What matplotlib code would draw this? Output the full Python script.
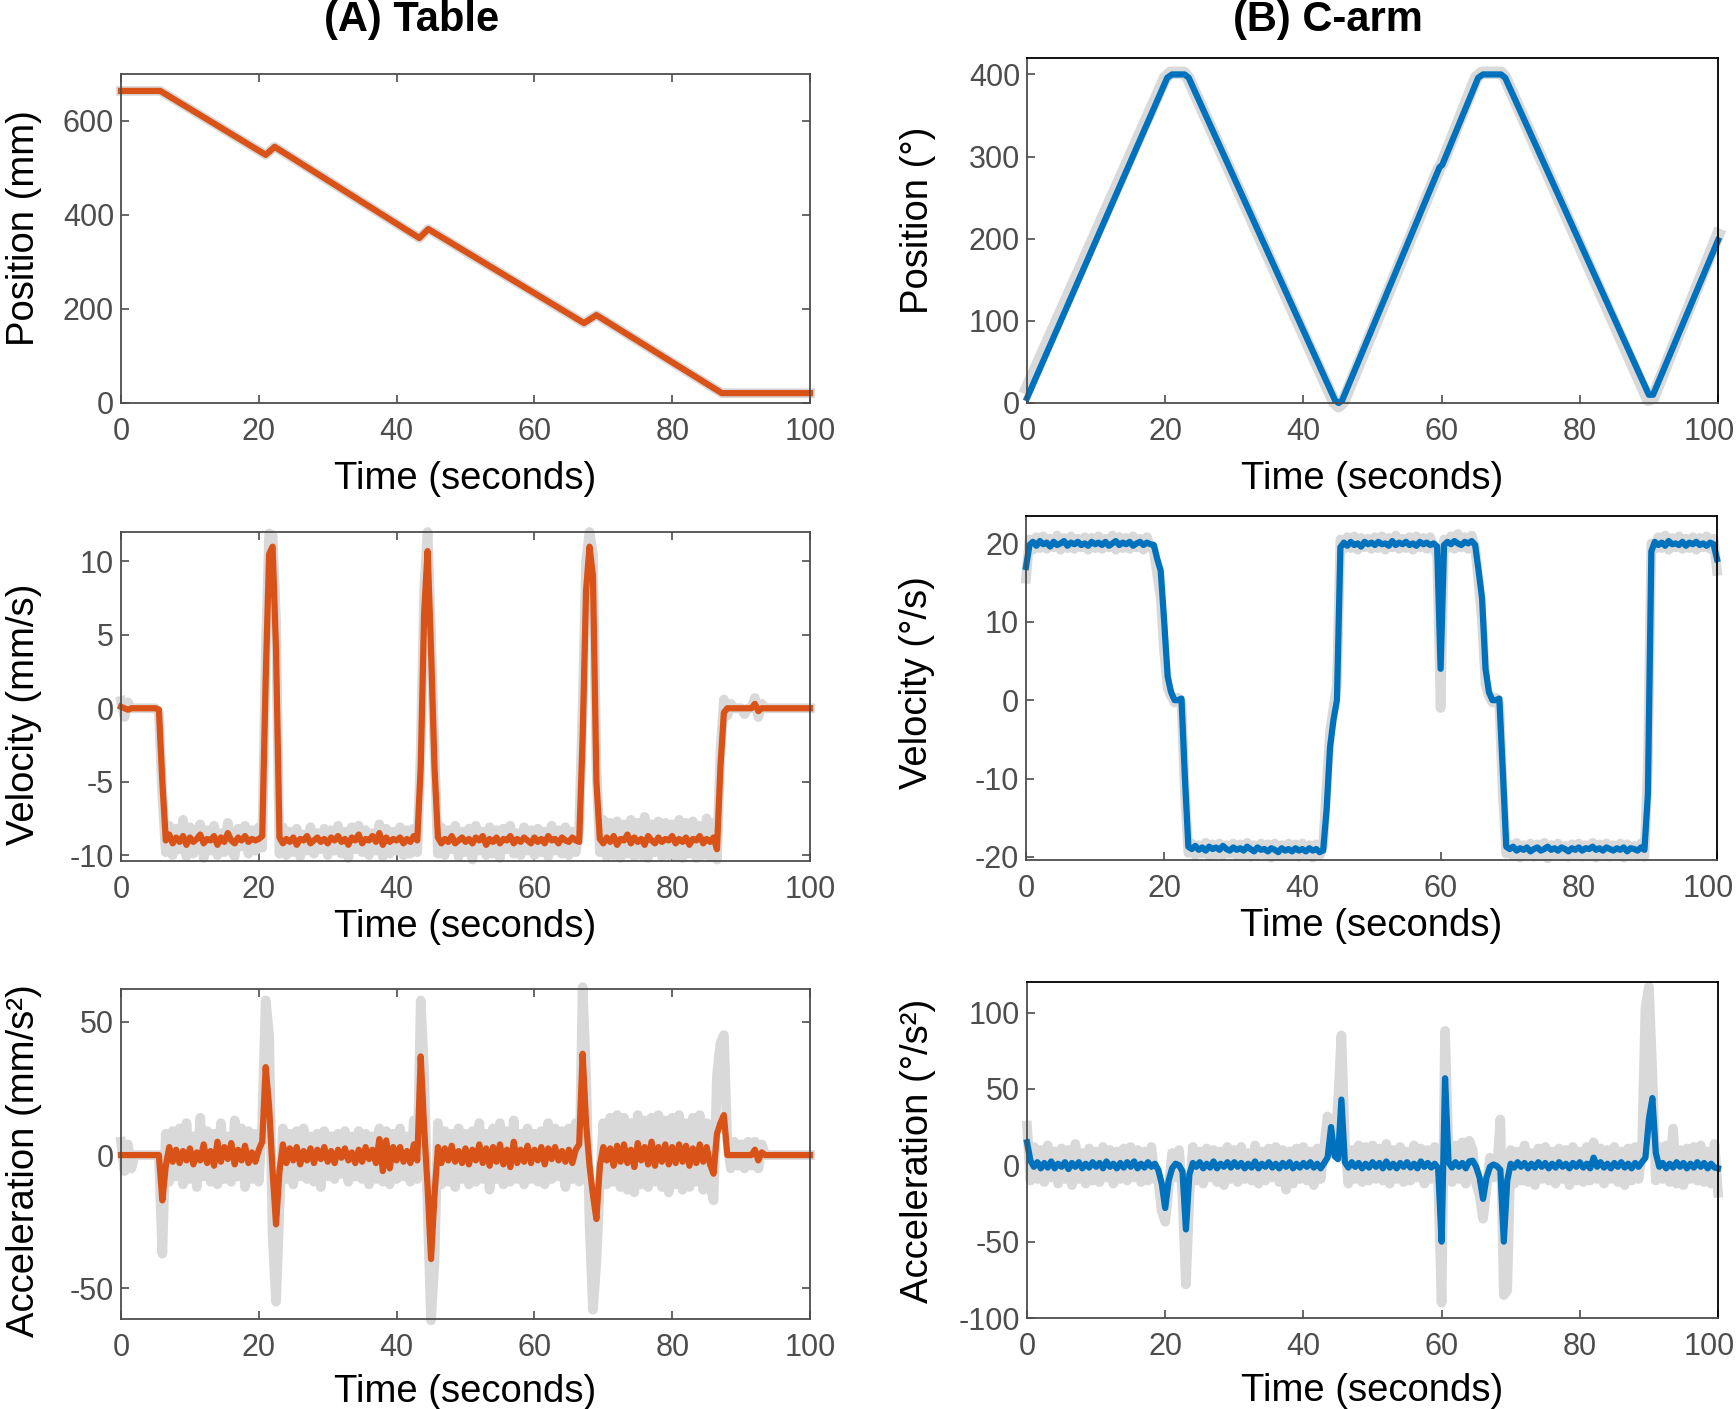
import numpy as np
import matplotlib
matplotlib.use("Agg")
import matplotlib.pyplot as plt
import matplotlib.transforms as mtransforms

plt.rcParams["font.family"] = ["Liberation Sans", "DejaVu Sans"]
plt.rcParams["axes.unicode_minus"] = False

ORANGE = "#D95319"
BLUE = "#0072BD"
GRAY = "#D9D9D9"
TICK = "#4D4D4D"

# ---- position (keypoints) ----
table_pos_t = [0, 5.7, 21.0, 22.3, 43.3, 44.6, 67.2, 69.0, 87.2, 100]
table_pos = [664, 664, 528, 545, 351, 370, 170, 187, 21, 21]

carm_pos_t = [0, 20.3, 21.0, 22.8, 23.4, 44.6, 45.1, 45.6, 59.7, 60.1, 65.3, 66.0, 68.6, 69.2, 90.0, 90.6, 100]
carm_pos = [6, 396, 400, 400, 396, 3, 0, 3, 287, 290, 396, 400, 400, 396, 10, 10, 198]
carm_pos_raw_t = [0, 20.0, 20.8, 22.7, 23.3, 44.4, 45.1, 45.8, 59.6, 60.1, 65.0, 65.8, 68.6, 69.2, 89.9, 90.6, 100]
carm_pos_raw = [18, 396, 402, 402, 396, 2, -4, 2, 285, 292, 396, 402, 402, 396, 4, 6, 205]

# ---- velocity / acceleration, one value every 0.5 s ----
table_vel = [
    0.1, 0.0, -0.1, 0.0, 0.0, 0.0, 0.0, 0.0, 0.0, 0.0, 0.0, -0.1, -5.0, -9.0, -8.6, -9.2, -8.8, -9.1, -8.7, -9.3,
    -8.8, -9.1, -8.9, -8.6, -9.2, -8.9, -9.0, -8.7, -9.3, -8.8, -9.1, -8.5, -9.0, -9.2, -8.8, -9.0, -8.7, -9.1, -8.9, -9.0,
    -8.9, -8.7, 2.0, 10.5, 11.0, 4.0, -8.8, -9.2, -8.9, -9.1, -8.8, -9.3, -8.9, -9.0, -8.7, -9.2, -9.0, -8.8, -9.1, -8.9,
    -9.2, -8.8, -9.0, -8.7, -9.1, -8.9, -9.3, -8.8, -9.0, -8.6, -9.2, -8.9, -9.0, -8.7, -9.1, -8.5, -9.3, -8.8, -9.1, -8.9,
    -9.0, -8.8, -9.2, -8.9, -9.1, -8.7, -9.0, -4.0, 6.5, 10.7, 4.0, -4.0, -8.8, -9.2, -8.9, -9.1, -8.7, -9.2, -9.0, -8.8,
    -9.1, -8.9, -9.2, -8.8, -9.0, -8.7, -9.3, -8.9, -9.1, -8.8, -9.2, -8.9, -9.0, -8.7, -9.2, -8.9, -9.1, -8.8, -9.0, -9.2,
    -8.8, -9.1, -8.9, -9.2, -8.7, -9.0, -8.9, -9.2, -8.8, -9.0, -9.1, -8.8, -9.0, -9.1, -2.0, 8.0, 11.0, 9.0, -5.0, -8.9,
    -9.2, -8.8, -9.1, -8.7, -9.3, -8.9, -9.0, -8.6, -9.2, -8.8, -9.1, -8.9, -9.3, -8.7, -9.0, -9.2, -8.8, -9.1, -8.9, -9.0,
    -8.7, -9.2, -8.9, -9.1, -8.8, -9.3, -8.9, -9.0, -8.7, -9.2, -8.9, -9.1, -8.8, -9.6, -4.0, -0.3, 0.0, 0.0, 0.0, 0.0,
    0.0, 0.0, 0.0, 0.0, 0.3, -0.2, 0.0, 0.0, 0.0, 0.0, 0.0, 0.0, 0.0, 0.0, 0.0, 0.0, 0.0, 0.0, 0.0, 0.0,
    0.0]
table_vel_raw = [
    0.5, -0.6, 0.4, 0.0, 0.0, 0.0, 0.0, 0.0, 0.0, 0.0, 0.0, -0.3, -6.0, -9.8, -8.0, -10.0, -8.2, -9.6, -7.6, -10.1,
    -8.1, -9.9, -8.4, -7.9, -10.2, -8.3, -9.7, -8.0, -10.0, -8.5, -9.8, -7.8, -9.6, -10.1, -8.2, -9.4, -8.0, -9.9, -8.3, -9.7,
    -8.1, -9.5, 3.5, 11.9, 11.8, 6.0, -9.9, -8.1, -10.0, -8.4, -9.8, -8.2, -10.1, -8.6, -9.7, -8.1, -9.9, -8.5, -9.6, -8.2,
    -10.0, -8.3, -9.7, -8.0, -9.9, -8.4, -10.2, -8.1, -9.6, -8.0, -9.8, -8.3, -10.0, -8.5, -9.7, -7.9, -10.1, -8.2, -9.9, -8.4,
    -9.7, -8.1, -10.0, -8.3, -9.9, -8.2, -9.8, -3.0, 8.0, 12.0, 5.0, -3.0, -9.9, -8.1, -10.0, -8.3, -9.6, -8.0, -10.1, -8.4,
    -9.8, -8.2, -10.3, -8.0, -9.7, -8.4, -10.0, -8.1, -9.9, -8.3, -10.2, -8.2, -9.6, -8.0, -9.9, -8.5, -10.0, -8.1, -9.7, -8.3,
    -10.0, -8.2, -9.8, -8.4, -10.1, -8.0, -9.7, -8.3, -9.9, -8.1, -10.0, -8.4, -9.8, -8.2, 0.0, 10.0, 12.0, 10.5, -4.0, -9.8,
    -7.6, -10.1, -7.8, -10.0, -7.7, -10.2, -7.9, -9.9, -7.6, -10.1, -7.8, -10.0, -7.4, -10.2, -7.9, -9.8, -7.7, -10.1, -7.8, -10.0,
    -7.9, -10.1, -7.6, -10.2, -7.8, -9.9, -7.7, -10.2, -8.0, -10.0, -7.5, -10.1, -7.8, -10.3, -3.0, 0.6, -0.5, 0.3, 0.0, 0.0,
    0.0, -0.4, 0.0, 0.0, 0.7, -0.6, 0.3, 0.0, 0.0, 0.0, 0.0, 0.0, 0.0, 0.0, 0.0, 0.0, 0.0, 0.0, 0.0, 0.0,
    0.0]

carm_vel = [
    17.0, 19.8, 20.2, 19.7, 20.3, 19.9, 20.1, 19.6, 20.2, 19.8, 20.0, 20.3, 19.7, 20.1, 19.9, 20.2, 19.8, 20.0, 19.7, 20.2,
    19.9, 20.1, 19.8, 20.2, 19.7, 20.0, 20.3, 19.8, 20.1, 19.9, 20.2, 19.7, 20.0, 20.2, 19.8, 20.1, 19.9, 19.8, 18.0, 16.5,
    10.0, 3.0, 1.0, 0.0, 0.0, 0.2, -10.0, -18.7, -19.0, -18.6, -19.1, -18.8, -19.2, -18.7, -19.0, -18.8, -19.1, -18.6, -19.0, -19.2,
    -18.8, -19.1, -18.9, -19.2, -18.7, -19.0, -19.3, -18.8, -19.1, -19.0, -19.3, -18.9, -19.1, -19.4, -18.9, -19.2, -19.0, -19.3, -18.9, -19.2,
    -19.0, -19.3, -18.9, -19.2, -19.0, -19.4, -19.2, -14.0, -6.0, -2.5, 0.0, 19.5, 20.1, 19.7, 20.2, 19.8, 20.0, 19.6, 20.2, 19.9,
    20.1, 19.8, 20.2, 19.9, 20.0, 19.7, 20.3, 19.8, 20.1, 19.9, 20.2, 19.8, 20.0, 19.7, 20.2, 19.9, 20.1, 19.8, 20.0, 19.6,
    4.0, 19.8, 20.2, 19.9, 20.3, 20.0, 19.8, 20.2, 20.0, 20.3, 19.8, 16.5, 13.0, 4.0, 1.0, 0.0, 0.0, 0.2, -9.0, -18.7,
    -19.0, -18.7, -19.2, -18.9, -19.1, -18.8, -19.3, -19.0, -18.8, -19.2, -19.0, -18.7, -19.1, -18.9, -19.2, -18.8, -19.0, -19.3, -18.9, -19.1,
    -18.8, -19.2, -18.9, -19.0, -18.7, -19.1, -18.9, -19.2, -18.8, -19.0, -19.2, -18.9, -19.1, -18.8, -19.3, -18.9, -19.0, -19.2, -18.8, -19.1,
    -12.0, 19.0, 20.2, 19.8, 20.1, 19.7, 20.3, 19.9, 20.0, 19.8, 20.2, 19.7, 20.1, 19.9, 20.2, 19.8, 20.0, 19.7, 20.1, 19.9,
    18.0]
carm_vel_raw = [
    15.5, 20.5, 19.2, 20.8, 19.4, 20.9, 19.3, 20.6, 19.5, 21.0, 19.2, 20.7, 19.4, 20.9, 19.3, 20.6, 19.5, 20.8, 19.2, 20.7,
    19.4, 20.9, 19.3, 20.6, 19.5, 21.0, 19.2, 20.8, 19.4, 20.7, 19.3, 20.9, 19.5, 20.6, 19.2, 20.8, 19.6, 19.0, 16.0, 13.0,
    6.0, 1.5, 0.5, -0.3, 0.3, -0.5, -12.0, -19.5, -18.3, -19.8, -18.5, -19.6, -18.2, -19.9, -18.4, -19.7, -18.3, -19.8, -18.5, -19.6,
    -18.3, -19.9, -18.4, -19.7, -18.2, -20.0, -18.5, -19.8, -18.3, -19.7, -18.4, -20.1, -18.3, -19.8, -18.5, -19.9, -18.3, -19.7, -18.4, -20.0,
    -18.3, -19.8, -18.5, -20.1, -18.4, -19.8, -18.6, -11.0, -4.0, -1.0, 2.0, 20.5, 19.3, 20.8, 19.4, 20.9, 19.2, 20.7, 19.5, 20.6,
    19.3, 20.8, 19.4, 20.9, 19.2, 20.7, 19.5, 21.0, 19.3, 20.6, 19.4, 20.8, 19.2, 20.9, 19.5, 20.7, 19.3, 20.8, 19.4, 18.5,
    -1.0, 20.5, 19.4, 20.9, 19.3, 21.2, 19.5, 20.8, 19.3, 21.0, 19.4, 15.0, 10.0, 2.0, 0.5, -0.3, 0.3, -0.5, -12.0, -19.6,
    -18.4, -19.9, -18.2, -20.1, -18.5, -19.7, -18.3, -20.0, -18.4, -19.8, -18.2, -20.2, -18.5, -19.7, -18.3, -19.9, -18.6, -20.0, -18.4, -19.8,
    -18.3, -20.0, -18.5, -19.8, -18.2, -20.1, -18.4, -19.7, -18.3, -20.0, -18.5, -19.8, -18.3, -20.1, -18.4, -19.7, -18.6, -19.9, -18.3, -20.0,
    -8.0, 20.0, 19.3, 20.8, 19.4, 21.0, 19.2, 20.7, 19.5, 20.9, 19.3, 20.6, 19.4, 20.8, 19.2, 20.7, 19.5, 20.9, 19.3, 20.6,
    16.5]

table_acc = [
    0.0, 0.0, 0.0, 0.0, 0.0, 0.0, 0.0, 0.0, 0.0, 0.0, 0.0, 0.0, -17.0, -4.0, 3.0, -2.5, 2.0, -3.0, 1.5, -2.0,
    2.5, -3.5, 1.0, -2.0, 4.0, -3.0, 1.5, -4.0, 5.0, -2.5, 3.0, -1.5, 4.5, -3.5, 2.0, -2.0, 3.5, -3.0, 1.0, -2.5,
    2.0, 5.0, 33.0, 18.0, -6.0, -26.0, -6.0, 4.0, -3.0, 2.5, -2.0, 3.0, -3.5, 1.5, -2.0, 2.5, -3.0, 2.0, -1.5, 3.0,
    -2.5, 1.5, -3.0, 2.0, -1.0, 2.5, -2.0, 1.0, -3.0, 2.0, -2.5, 3.0, -1.5, 2.0, -3.0, 6.0, -6.0, 5.5, -5.0, 3.0,
    -2.0, 3.0, -2.5, 1.5, -3.0, 4.0, -2.0, 37.0, 10.0, -12.0, -39.0, -15.0, 3.0, -3.0, 2.5, -2.0, 3.5, -2.5, 1.5, -3.0,
    2.5, -3.5, 2.0, -2.0, 4.0, -3.0, 2.5, -4.0, 3.0, -2.5, 4.0, -3.5, 2.0, -4.5, 5.0, -3.0, 2.0, -2.5, 3.5, -3.0,
    2.0, -2.0, 3.0, -3.5, 2.5, -1.5, 3.0, -2.0, 1.5, -2.5, 2.0, -3.0, 2.0, 4.0, 38.0, 12.0, -4.0, -15.0, -24.0, -4.0,
    3.0, -2.0, 2.5, -4.0, 3.5, -2.5, 4.0, -3.0, 2.0, -4.5, 4.5, -2.0, 3.0, -3.5, 5.0, -4.0, 3.0, -2.5, 4.0, -3.5,
    3.0, -3.0, 4.0, -2.5, 3.5, -4.0, 2.5, -3.0, 4.0, -2.5, 3.0, -3.5, -7.0, 8.0, 12.0, 15.0, 0.0, 0.0, 0.0, 0.0,
    0.0, 0.0, 0.0, 0.0, 2.0, -2.0, 1.0, 0.0, 0.0, 0.0, 0.0, 0.0, 0.0, 0.0, 0.0, 0.0, 0.0, 0.0, 0.0, 0.0,
    0.0]
table_acc_raw = [
    5.0, -6.0, 4.0, -5.0, 0.0, 0.0, 0.0, 0.0, 0.0, 0.0, 0.0, 0.0, -37.0, 8.0, -10.0, 9.0, -8.0, 10.0, -11.0, 12.0,
    -9.0, 7.0, -12.0, 14.0, -8.0, 9.0, -10.0, 8.0, -11.0, 12.0, -9.0, 7.0, -10.0, 13.0, -8.0, 10.0, -12.0, 9.0, -9.0, 8.0,
    -10.0, 12.0, 58.0, 45.0, -30.0, -55.0, -20.0, 10.0, -9.0, 8.0, -11.0, 9.0, -8.0, 10.0, -9.0, 7.0, -10.0, 8.0, -12.0, 9.0,
    -8.0, 7.0, -9.0, 8.0, -7.0, 9.0, -10.0, 7.0, -8.0, 9.0, -9.0, 8.0, -11.0, 7.0, -9.0, 10.0, -10.0, 9.0, -11.0, 8.0,
    -9.0, 10.0, -8.0, 7.0, -10.0, 13.0, -9.0, 58.0, 30.0, -20.0, -62.0, -40.0, 12.0, -11.0, 9.0, -10.0, 8.0, -12.0, 10.0, -9.0,
    8.0, -11.0, 9.0, -10.0, 12.0, -9.0, 8.0, -13.0, 10.0, -9.0, 12.0, -11.0, 9.0, -10.0, 13.0, -9.0, 8.0, -11.0, 10.0, -9.0,
    8.0, -10.0, 9.0, -11.0, 12.0, -9.0, 10.0, -8.0, 9.0, -12.0, 10.0, -9.0, 12.0, -10.0, 63.0, 30.0, -25.0, -58.0, -40.0, -10.0,
    12.0, -11.0, 14.0, -10.0, 15.0, -12.0, 14.0, -13.0, 12.0, -14.0, 15.0, -11.0, 13.0, -12.0, 14.0, -10.0, 15.0, -12.0, 13.0, -14.0,
    14.0, -11.0, 15.0, -13.0, 12.0, -12.0, 14.0, -10.0, 15.0, -13.0, 12.0, -11.0, -17.0, 30.0, 42.0, 45.0, 5.0, -5.0, 5.0, -4.0,
    4.0, -5.0, 5.0, -4.0, 5.0, -5.0, 4.0, 0.0, 0.0, 0.0, 0.0, 0.0, 0.0, 0.0, 0.0, 0.0, 0.0, 0.0, 0.0, 0.0,
    0.0]

carm_acc = [
    15.0, 3.0, -1.0, 2.0, -2.0, 1.5, -1.5, 2.5, -2.0, 1.0, -1.0, 2.0, -2.5, 1.5, -1.0, 2.0, -2.0, 1.0, -1.5, 2.0,
    -1.0, 1.5, -2.0, 2.5, -1.0, 1.0, -2.0, 1.5, -1.5, 2.0, -1.0, 2.5, -2.0, 1.0, -1.5, 2.0, -1.0, 1.0, -3.0, -12.0,
    -28.0, -10.0, -2.0, 1.0, 0.0, -4.0, -42.0, -6.0, 1.5, -1.0, 2.0, -2.0, 1.0, -1.5, 2.5, -2.0, 1.0, -1.0, 2.0, -1.5,
    2.0, -1.0, 1.5, -2.0, 1.0, -1.5, 2.5, -2.0, 1.0, -1.0, 2.0, -1.5, 1.0, -2.0, 1.5, -1.0, 2.0, -2.0, 1.0, -1.5,
    1.5, -1.0, 2.0, -1.5, 1.0, -2.0, 1.5, 5.0, 25.0, 6.0, 4.0, 43.0, 2.0, -1.5, 2.0, -1.0, 1.5, -2.0, 1.0, -1.5,
    2.0, -1.0, 1.5, -2.0, 2.5, -1.5, 1.0, -2.0, 1.5, -1.0, 2.0, -1.5, 1.0, -2.0, 2.5, -1.0, 1.5, -1.5, 1.0, -2.0,
    -50.0, 57.0, 2.0, -1.5, 2.0, -1.0, 1.5, -2.0, 2.5, 3.0, -1.0, -8.0, -22.0, -8.0, -1.0, 0.5, -0.5, -3.0, -50.0, -10.0,
    1.0, -1.5, 2.0, -1.0, 1.5, -2.0, 1.0, -1.5, 2.0, -1.0, 1.5, -2.0, 1.0, -1.5, 2.0, -1.0, 1.0, -2.0, 1.5, -1.0,
    2.0, -1.5, 1.0, -2.0, 5.0, -1.0, 2.0, -1.5, 1.0, -2.0, 1.5, -1.0, 2.0, -1.5, 1.0, -2.0, 1.5, -1.0, 2.0, 5.0,
    30.0, 44.0, 8.0, -1.0, 1.5, -2.0, 1.0, -1.5, 2.0, -1.0, 1.5, -2.0, 1.0, -1.5, 2.0, -1.0, 1.5, -2.0, 1.0, -1.5,
    -2.0]
carm_acc_raw = [
    26.0, -10.0, 12.0, -9.0, 10.0, -11.0, 13.0, -8.0, 9.0, -12.0, 11.0, -9.0, 10.0, -13.0, 14.0, -9.0, 8.0, -12.0, 11.0, -10.0,
    9.0, -11.0, 12.0, -8.0, 10.0, -12.0, 9.0, -9.0, 11.0, -10.0, 12.0, -8.0, 10.0, -11.0, 9.0, -10.0, 12.0, -9.0, -10.0, -30.0,
    -37.0, -15.0, 8.0, -8.0, 10.0, -20.0, -78.0, -20.0, 12.0, -10.0, 9.0, -12.0, 11.0, -8.0, 10.0, -11.0, 9.0, -13.0, 12.0, -9.0,
    10.0, -11.0, 12.0, -9.0, 8.0, -10.0, 13.0, -12.0, 9.0, -10.0, 11.0, -8.0, 12.0, -11.0, 10.0, -16.0, 9.0, -12.0, 11.0, -9.0,
    12.0, -10.0, 9.0, -13.0, 11.0, -9.0, 12.0, 32.0, 28.0, 10.0, 40.0, 85.0, 15.0, -12.0, 10.0, -9.0, 13.0, -11.0, 12.0, -10.0,
    13.0, -9.0, 11.0, -10.0, 14.0, -12.0, 10.0, -9.0, 12.0, -11.0, 9.0, -10.0, 13.0, -8.0, 11.0, -12.0, 10.0, -9.0, 12.0, -10.0,
    -90.0, 88.0, 10.0, -11.0, 13.0, -9.0, 15.0, -12.0, 16.0, 10.0, -12.0, -20.0, -35.0, -15.0, 5.0, -8.0, -5.0, 30.0, -85.0, -82.0,
    10.0, -12.0, 9.0, -10.0, 13.0, -11.0, 8.0, -13.0, 11.0, -9.0, 12.0, -10.0, 9.0, -12.0, 11.0, -9.0, 10.0, -13.0, 12.0, -10.0,
    9.0, -11.0, 12.0, -10.0, 15.0, -9.0, 11.0, -12.0, 10.0, -9.0, 12.0, -11.0, 9.0, -13.0, 11.0, -10.0, 12.0, -9.0, 10.0, 103.0,
    117.0, 60.0, -10.0, 12.0, -9.0, 13.0, -11.0, 24.0, -12.0, 10.0, -13.0, 11.0, -9.0, 12.0, -10.0, 13.0, -11.0, 9.0, -12.0, 14.0,
    -18.0]


def sample_times(values):
    return np.arange(len(values)) * 0.5


def px_rect(left, right, top, bottom):
    W, H = 1736, 1409
    return [left / W, 1 - bottom / H, (right - left) / W, (bottom - top) / H]


def style(ax, ylim, yticks, ylabel, label_y, right_col, xlabelpad):
    ax.set_xlim(0, 100)
    ax.set_ylim(*ylim)
    ax.set_xticks(range(0, 101, 20))
    ax.set_yticks(yticks)
    ax.tick_params(direction="in", length=6, width=1.2, labelsize=22, colors=TICK)
    ax.tick_params(axis="x", pad=10)
    ax.tick_params(axis="y", pad=5)
    for s in ax.spines.values():
        s.set_color(TICK)
        s.set_linewidth(1.3)
    if right_col:
        ax.spines["top"].set_color("black")
        ax.spines["right"].set_color("black")
        # keep the last "100" inside the figure edge
        last = ax.get_xticklabels()[-1]
        last.set_transform(last.get_transform()
                           + mtransforms.ScaledTranslation(-0.09, 0, fig.dpi_scale_trans))
    else:
        ax.tick_params(top=True, right=True)
    ax.set_xlabel("Time (seconds)", fontsize=27.5, labelpad=xlabelpad)
    ax.set_ylabel(ylabel, fontsize=27.5)
    ax.yaxis.set_label_coords(-0.131 if right_col else -0.114, label_y)


def draw(ax, t, raw, filt, color):
    ax.plot(t, raw, color=GRAY, lw=7, solid_joinstyle="round", clip_on=False)
    ax.plot(t, filt, color=color, lw=4.5, solid_joinstyle="round", clip_on=False)


fig = plt.figure(figsize=(17.36, 14.09), dpi=100)

ax1 = fig.add_axes(px_rect(121, 810, 74, 403))
draw(ax1, table_pos_t, table_pos, table_pos, ORANGE)
style(ax1, (0, 700), [0, 200, 400, 600], "Position (mm)", 0.532, False, 10)

ax2 = fig.add_axes(px_rect(1027, 1718, 58, 403))
ax2.plot(carm_pos_raw_t, carm_pos_raw, color=GRAY, lw=9, solid_joinstyle="round", clip_on=False)
ax2.plot(carm_pos_t, carm_pos, color=BLUE, lw=4.5, solid_joinstyle="round", clip_on=False)
style(ax2, (0, 420), [0, 100, 200, 300, 400], "Position (°)", 0.53, True, 10)

ax3 = fig.add_axes(px_rect(121, 810, 532, 861))
draw(ax3, sample_times(table_vel), table_vel_raw, table_vel, ORANGE)
style(ax3, (-10.4, 12), [-10, -5, 0, 5, 10], "Velocity (mm/s)", 0.447, False, 3)

ax4 = fig.add_axes(px_rect(1026, 1717, 516, 860))
draw(ax4, sample_times(carm_vel), carm_vel_raw, carm_vel, BLUE)
style(ax4, (-20.4, 23.5), [-20, -10, 0, 10, 20], "Velocity (°/s)", 0.517, True, 3)

ax5 = fig.add_axes(px_rect(121, 810, 989, 1319))
draw(ax5, sample_times(table_acc), table_acc_raw, table_acc, ORANGE)
style(ax5, (-61.5, 62.3), [-50, 0, 50], "Acceleration (mm/s²)", 0.479, False, 8)

ax6 = fig.add_axes(px_rect(1027, 1718, 982, 1318))
draw(ax6, sample_times(carm_acc), carm_acc_raw, carm_acc, BLUE)
style(ax6, (-100, 120), [-100, -50, 0, 50, 100], "Acceleration (°/s²)", 0.497, True, 8)

fig.text(412 / 1736, 1 - 20 / 1409, "(A) Table", ha="center", va="center",
         fontsize=30, fontweight="bold")
fig.text(1328 / 1736, 1 - 20 / 1409, "(B) C-arm", ha="center", va="center",
         fontsize=30, fontweight="bold")

fig.savefig("out.png", dpi=100)
